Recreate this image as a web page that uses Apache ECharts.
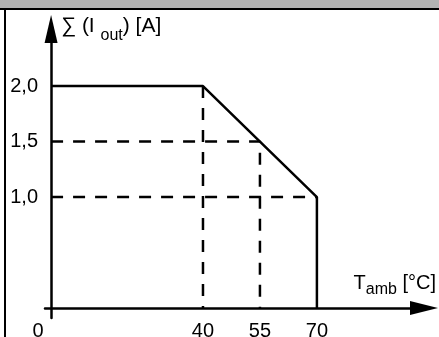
<!DOCTYPE html>
<html>
<head>
<meta charset="utf-8">
<script src="https://cdn.jsdelivr.net/npm/echarts@6/dist/echarts.min.js"></script>
<style>
  html, body { margin: 0; padding: 0; background: #fff; }
  #chart { width: 439px; height: 337px; }
</style>
</head>
<body>
<div id="chart"></div>
<script>
// derating curve: total output current vs ambient temperature
const curveT = [0, 40, 70, 70];
const curveI = [2.0, 2.0, 1.0, 0];
const xTicks = [0, 40, 55, 70];
const yTicks = [1.0, 1.5, 2.0];
// dashed helper lines
const guide40 = [[40, 2.0], [40, 0]];
const guide15 = [[0, 1.5], [55, 1.5], [55, 0]];
const guide10 = [[0, 1.0], [70, 1.0]];

const font = "'Liberation Sans', Arial, sans-serif";
let chart = echarts.init(document.getElementById('chart'));

function dashed(data) {
  return {
    type: 'line',
    data: data,
    symbol: 'none',
    silent: true,
    lineStyle: { color: '#000', width: 2.5, type: [12, 10] }
  };
}

chart.setOption({
  animation: false,
  grid: { left: 45, right: 15, top: 29, bottom: 19, outerBoundsMode: 'none', containLabel: false },
  xAxis: {
    type: 'value',
    min: -1.6,
    max: 98.2,
    splitLine: { show: false },
    axisTick: { show: false },
    axisLine: {
      onZero: true,
      lineStyle: { color: '#000', width: 2.5 },
      symbol: ['none', 'triangle'],
      symbolSize: [14, 28]
    },
    axisLabel: {
      customValues: xTicks,
      margin: 3,
      color: '#000',
      fontSize: 20,
      fontFamily: font,
      formatter: function (v) { return v === 0 ? '{z|0}' : String(v); },
      rich: { z: { fontSize: 20, fontFamily: font, color: '#000', padding: [0, 26, 0, 0] } }
    },
    name: 'T{sub|amb} [°C]',
    nameLocation: 'end',
    nameGap: 12,
    nameTextStyle: {
      align: 'right',
      verticalAlign: 'bottom',
      color: '#000',
      fontSize: 20,
      fontFamily: font,
      padding: [0, 0, 10, 0],
      rich: { sub: { fontSize: 16, fontFamily: font, color: '#000', padding: [14, 0, 0, 0] } }
    }
  },
  yAxis: {
    type: 'value',
    min: -0.09,
    max: 2.514,
    splitLine: { show: false },
    axisTick: { show: false },
    axisLine: {
      onZero: true,
      lineStyle: { color: '#000', width: 2.5 },
      symbol: ['none', 'triangle'],
      symbolSize: [13, 28]
    },
    axisLabel: {
      customValues: yTicks,
      margin: 7,
      color: '#000',
      fontSize: 20,
      fontFamily: font,
      formatter: function (v) { return v.toFixed(1).replace('.', ','); }
    },
    name: '∑ (I {sub|out}) [A]',
    nameLocation: 'end',
    nameGap: 3,
    nameTextStyle: {
      align: 'left',
      verticalAlign: 'middle',
      color: '#000',
      fontSize: 21,
      fontFamily: font,
      padding: [0, 0, 0, 10],
      rich: { sub: { fontSize: 16, fontFamily: font, color: '#000', padding: [20, 0, 0, 0] } }
    }
  },
  series: [
    {
      type: 'line',
      data: curveT.map((t, i) => [t, curveI[i]]),
      symbol: 'none',
      lineStyle: { color: '#000', width: 2.5 }
    },
    dashed(guide40),
    dashed(guide15),
    dashed(guide10)
  ],
  graphic: [
    { type: 'rect', shape: { x: 0, y: 0, width: 439, height: 8 }, style: { fill: '#b3b3b3' } },
    { type: 'rect', shape: { x: 0, y: 8, width: 439, height: 2 }, style: { fill: '#000' } },
    { type: 'rect', shape: { x: 4, y: 8, width: 2, height: 329 }, style: { fill: '#000' } }
  ]
});
window.addEventListener('resize', function () { chart.resize(); });
</script>
</body>
</html>
